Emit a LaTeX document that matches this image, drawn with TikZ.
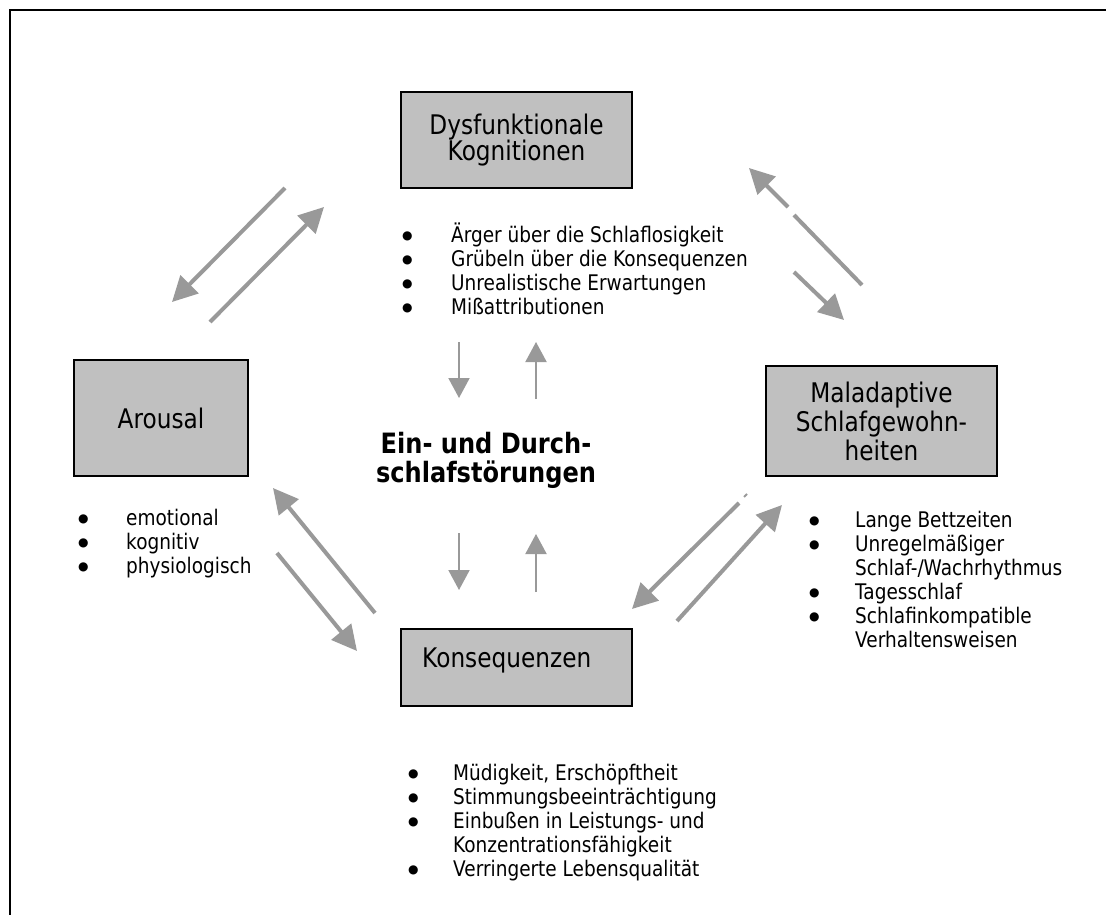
\documentclass[tikz,border=0pt]{standalone}
\usepackage{fontspec}
\setmainfont{DejaVu Sans}[FakeStretch=0.86]
\newfontfamily\dotfont{DejaVu Sans}
\usetikzlibrary{arrows.meta}
\definecolor{arrowgray}{HTML}{999999}
\definecolor{boxgray}{HTML}{C0C0C0}
\newcommand{\titlefont}{\fontsize{27}{29}\selectfont}
\newcommand{\listfont}{\fontsize{21.5}{24}\selectfont}
\newcommand{\bul}{{\dotfont\fontsize{12}{12}\selectfont\raisebox{2.2pt}{●}}}
\newcommand{\bulletlist}[2]{\listfont\begin{tabular}[t]{@{}p{#1}@{}l@{}}#2\end{tabular}}

\begin{document}
\begin{tikzpicture}[x=1pt,y=-1pt,
  box/.style={draw=black, line width=1.6pt, fill=boxgray, inner sep=0pt,
    align=center, font=\titlefont},
  label/.style={inner sep=0pt, anchor=base west, font=\titlefont},
  itemlist/.style={inner sep=0pt, anchor=base west},
  bigarrow/.style={draw=arrowgray, line width=4pt, -{Triangle[length=25pt,width=25pt]}},
  bigline/.style={draw=arrowgray, line width=4pt},
  smallarrow/.style={draw=arrowgray, line width=2pt, -{Triangle[length=20pt,width=21pt]}},
  centertext/.style={inner sep=0pt, align=center,
    font=\fontsize{28}{29}\selectfont\bfseries}]

\useasboundingbox (0,0) rectangle (1106,915);
\clip (0,0) rectangle (1106,915);
\fill[white] (0,0) rectangle (1106,915);

% outer frame (open to the right and bottom)
\draw[line width=2pt] (10,940) -- (10,10) -- (1130,10);

% the four boxes
\node[box, minimum width=231pt, minimum height=96pt] (dys) at (516.5,140)
  {Dysfunktionale\\[-3pt]Kognitionen};
\node[box, minimum width=174pt, minimum height=116pt] (arousal) at (161,418)
  {Arousal};
\node[box, minimum width=231pt, minimum height=110pt] (mal) at (881.5,421)
  {Maladaptive\\Schlafgewohn-\\heiten};
\node[box, minimum width=231pt, minimum height=77pt] (kons) at (516.5,667.5) {};
\node[label] (konstext) at (422,667) {Konsequenzen};

% central problem
\node[centertext] (sleep) at (486,460) {Ein- und Durch-\\schlafstörungen};

% bullet lists
\node[itemlist] (dyslist) at (402,242) {\bulletlist{49pt}{%
  \bul & Ärger über die Schlaflosigkeit\\
  \bul & Grübeln über die Konsequenzen\\
  \bul & Unrealistische Erwartungen\\
  \bul & Mißattributionen}};
\node[itemlist] (arolist) at (78,525) {\bulletlist{48pt}{%
  \bul & emotional\\
  \bul & kognitiv\\
  \bul & physiologisch}};
\node[itemlist] (mallist) at (809,527) {\bulletlist{46pt}{%
  \bul & Lange Bettzeiten\\
  \bul & Unregelmäßiger\\
       & Schlaf-/Wachrhythmus\\
  \bul & Tagesschlaf\\
  \bul & Schlafinkompatible\\
       & Verhaltensweisen}};
\node[itemlist] (konslist) at (408,780) {\bulletlist{45pt}{%
  \bul & Müdigkeit, Erschöpftheit\\
  \bul & Stimmungsbeeinträchtigung\\
  \bul & Einbußen in Leistungs- und\\
       & Konzentrationsfähigkeit\\
  \bul & Verringerte Lebensqualität}};

% arrow end points
\coordinate (tlAs) at (285,188); \coordinate (tlAe) at (172,302);
\coordinate (tlBs) at (210,322); \coordinate (tlBe) at (324,207);
\coordinate (trAs) at (862,285); \coordinate (trAg) at (794,215);
\coordinate (trAh) at (788,207); \coordinate (trAe) at (749,168);
\coordinate (trBs) at (794,272); \coordinate (trBe) at (844,320);
\coordinate (blAs) at (375,613); \coordinate (blAe) at (273,488);
\coordinate (blBs) at (277,553); \coordinate (blBe) at (357,651);
\coordinate (brAs) at (739,503); \coordinate (brAe) at (632,609);
\coordinate (brAf) at (744,497); \coordinate (brAg) at (747,494);
\coordinate (brBs) at (677,621); \coordinate (brBe) at (782,505);
\coordinate (mAs) at (459,342); \coordinate (mAe) at (459,398);
\coordinate (mBs) at (536,399); \coordinate (mBe) at (536,342);
\coordinate (mCs) at (459,533); \coordinate (mCe) at (459,590);
\coordinate (mDs) at (536,592); \coordinate (mDe) at (536,534);

% Arousal <-> Kognitionen
\draw[bigarrow] (tlAs) -- (tlAe);
\draw[bigarrow] (tlBs) -- (tlBe);
% Kognitionen <-> Schlafgewohnheiten
\draw[bigline] (trAs) -- (trAg);
\draw[bigarrow] (trAh) -- (trAe);
\draw[bigarrow] (trBs) -- (trBe);
% Arousal <-> Konsequenzen
\draw[bigarrow] (blAs) -- (blAe);
\draw[bigarrow] (blBs) -- (blBe);
% Schlafgewohnheiten <-> Konsequenzen
\draw[bigarrow] (brAs) -- (brAe);
\draw[draw=arrowgray, line width=2pt] (brAf) -- (brAg);
\draw[bigarrow] (brBs) -- (brBe);
% central disorder <-> Kognitionen / Konsequenzen
\draw[smallarrow] (mAs) -- (mAe);
\draw[smallarrow] (mBs) -- (mBe);
\draw[smallarrow] (mCs) -- (mCe);
\draw[smallarrow] (mDs) -- (mDe);
\end{tikzpicture}
\end{document}
